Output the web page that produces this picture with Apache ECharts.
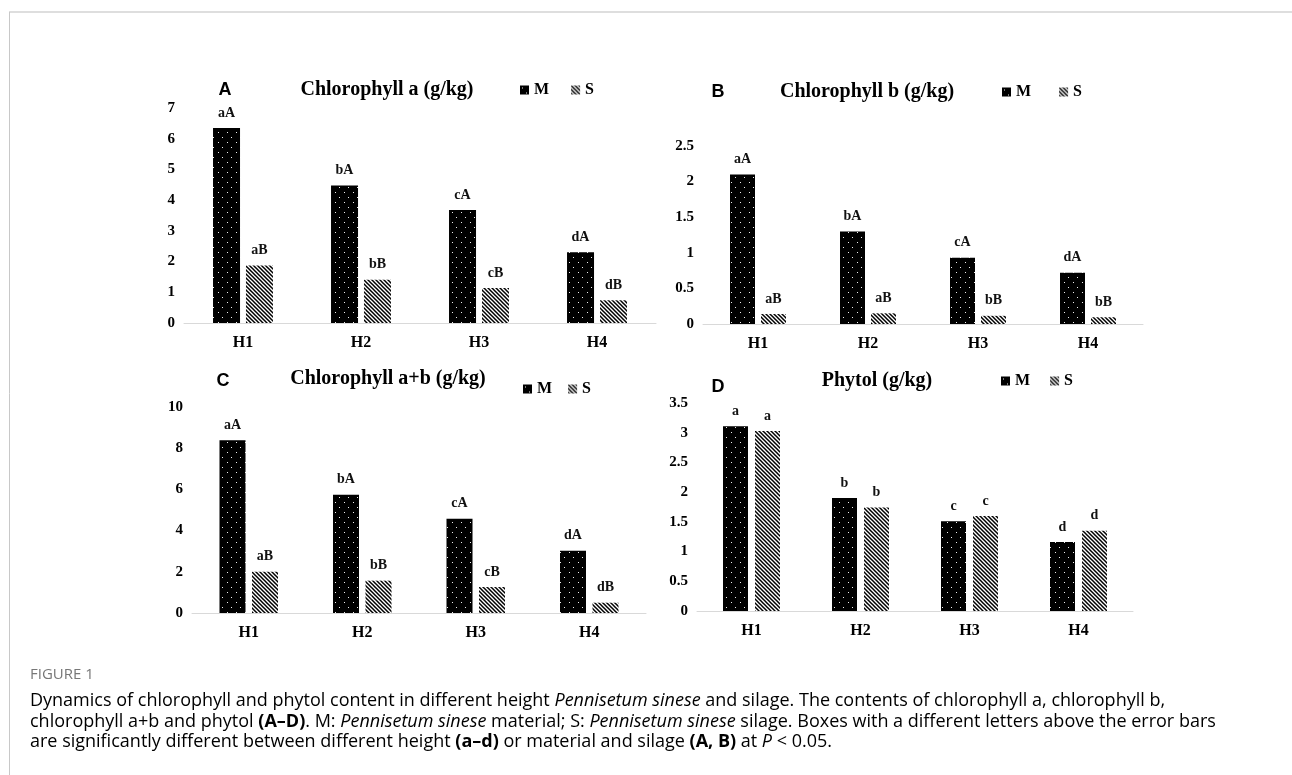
<!DOCTYPE html>
<html><head><meta charset="utf-8">
<script src="https://cdn.jsdelivr.net/npm/echarts@6/dist/echarts.min.js"></script>
<style>html,body{margin:0;padding:0;background:#fff}#c{width:1292px;height:775px}</style>
</head><body><div id="c"></div>
<script>
// ---- data ----
const categories = ['H1', 'H2', 'H3', 'H4'];
const seriesNames = ['M', 'S'];

const chlA_M = [6.35, 4.48, 3.68, 2.30];
const chlA_S = [1.87, 1.41, 1.14, 0.74];
const chlB_M = [2.10, 1.30, 0.93, 0.72];
const chlB_S = [0.14, 0.15, 0.115, 0.095];
const chlAB_M = [8.38, 5.74, 4.58, 3.02];
const chlAB_S = [2.00, 1.57, 1.26, 0.50];
const phytol_M = [3.11, 1.90, 1.51, 1.16];
const phytol_S = [3.03, 1.74, 1.60, 1.35];

const lettersA_M = ['aA', 'bA', 'cA', 'dA'];
const lettersA_S = ['aB', 'bB', 'cB', 'dB'];
const lettersB_M = ['aA', 'bA', 'cA', 'dA'];
const lettersB_S = ['aB', 'aB', 'bB', 'bB'];
const lettersC_M = ['aA', 'bA', 'cA', 'dA'];
const lettersC_S = ['aB', 'bB', 'cB', 'dB'];
const lettersD_M = ['a', 'b', 'c', 'd'];
const lettersD_S = ['a', 'b', 'c', 'd'];

const ticksA = [0, 1, 2, 3, 4, 5, 6, 7];
const ticksB = [0, 0.5, 1, 1.5, 2, 2.5];
const ticksC = [0, 2, 4, 6, 8, 10];
const ticksD = [0, 0.5, 1, 1.5, 2, 2.5, 3, 3.5];

const titles = ['Chlorophyll a (g/kg)', 'Chlorophyll b (g/kg)', 'Chlorophyll a+b (g/kg)', 'Phytol (g/kg)'];
const panelLetters = ['A', 'B', 'C', 'D'];

// ---- patterns ----
function dotPattern() {
  const c = document.createElement('canvas'); c.width = 9; c.height = 10;
  const g = c.getContext('2d');
  g.fillStyle = '#000'; g.fillRect(0, 0, 9, 10);
  g.fillStyle = '#f0f0f0'; g.fillRect(2, 2, 1, 1); g.fillRect(6, 7, 1, 1);
  return c;
}
function stripePattern() {
  const n = 4; const c = document.createElement('canvas'); c.width = n; c.height = n;
  const g = c.getContext('2d');
  g.fillStyle = '#fff'; g.fillRect(0, 0, n, n);
  g.strokeStyle = '#000'; g.lineWidth = 1.5; g.beginPath();
  g.moveTo(-1, -1); g.lineTo(n + 1, n + 1);
  g.moveTo(-1, n - 1); g.lineTo(1, n + 1);
  g.moveTo(n - 1, -1); g.lineTo(n + 1, 1);
  g.stroke();
  return c;
}
const fillM = { image: dotPattern(), repeat: 'repeat' };
const fillS = { image: stripePattern(), repeat: 'repeat' };

const SERIF = '"Liberation Serif", "Times New Roman", serif';
const SANS = '"Liberation Sans", Arial, sans-serif';

const panels = [
  { grid: { left: 184, top: 108, width: 472, height: 215 }, m: chlA_M, s: chlA_S, lm: lettersA_M, ls: lettersA_S, ticks: ticksA, bw: 27, gap: '22%',
    title: [387, 90], letter: [225, 90], legend: { left: 520, top: 82, gap: 22 } },
  { grid: { left: 703, top: 146, width: 440, height: 178 }, m: chlB_M, s: chlB_S, lm: lettersB_M, ls: lettersB_S, ticks: ticksB, bw: 25, gap: '24%',
    title: [867, 92], letter: [718, 92], legend: { left: 1002, top: 84, gap: 28 } },
  { grid: { left: 192, top: 407, width: 454, height: 206 }, m: chlAB_M, s: chlAB_S, lm: lettersC_M, ls: lettersC_S, ticks: ticksC, bw: 26, gap: '25%',
    title: [388, 379], letter: [223, 381], legend: { left: 523, top: 381, gap: 16 } },
  { grid: { left: 697, top: 403, width: 436, height: 208 }, m: phytol_M, s: phytol_S, lm: lettersD_M, ls: lettersD_S, ticks: ticksD, bw: 25, gap: '28%',
    title: [877, 381], letter: [718, 387], legend: { left: 1001, top: 373, gap: 20 } }
];

const grids = [], xAxes = [], yAxes = [], series = [], legends = [], graphics = [];

panels.forEach((p, i) => {
  grids.push(Object.assign({ containLabel: false }, p.grid));
  xAxes.push({
    type: 'category', gridIndex: i, data: categories,
    axisLine: { lineStyle: { color: '#d9d9d9', width: 1 } },
    axisTick: { show: false },
    axisLabel: { color: '#000', fontFamily: SERIF, fontWeight: 'bold', fontSize: 16, margin: 12 }
  });
  const t = p.ticks;
  yAxes.push({
    type: 'value', gridIndex: i, min: t[0], max: t[t.length - 1], interval: t[1] - t[0],
    axisLine: { show: false }, axisTick: { show: false }, splitLine: { show: false },
    axisLabel: { color: '#000', fontFamily: SERIF, fontWeight: 'bold', fontSize: 15, margin: 9 }
  });
  const lbl = (arr) => ({
    show: true, position: 'top', distance: 8, color: '#111',
    fontFamily: SERIF, fontWeight: 'bold', fontSize: 14,
    formatter: (q) => arr[q.dataIndex]
  });
  series.push({
    name: seriesNames[0], type: 'bar', xAxisIndex: i, yAxisIndex: i, data: p.m,
    barWidth: p.bw, barGap: p.gap, itemStyle: { color: fillM }, label: lbl(p.lm),
    emphasis: { disabled: true }, animation: false
  });
  series.push({
    name: seriesNames[1], type: 'bar', xAxisIndex: i, yAxisIndex: i, data: p.s,
    barWidth: p.bw, barGap: p.gap, itemStyle: { color: fillS }, label: lbl(p.ls),
    emphasis: { disabled: true }, animation: false
  });
  legends.push({
    data: seriesNames, left: p.legend.left, top: p.legend.top, padding: 0,
    itemWidth: 9, itemHeight: 9, itemGap: p.legend.gap, icon: 'rect', selectedMode: false,
    textStyle: { color: '#000', fontFamily: SERIF, fontWeight: 'bold', fontSize: 16 }
  });
  graphics.push({
    type: 'text', x: p.title[0], y: p.title[1],
    style: { text: titles[i], font: 'bold 20px ' + SERIF, fill: '#000', textAlign: 'center', textVerticalAlign: 'middle' }
  });
  graphics.push({
    type: 'text', x: p.letter[0], y: p.letter[1],
    style: { text: panelLetters[i], font: 'bold 18px ' + SANS, fill: '#000', textAlign: 'center', textVerticalAlign: 'middle' }
  });
});

// frame
graphics.push({ type: 'line', shape: { x1: 9, y1: 12, x2: 1292, y2: 12 }, style: { stroke: '#dedede', lineWidth: 2 } });
graphics.push({ type: 'line', shape: { x1: 9.5, y1: 12, x2: 9.5, y2: 775 }, style: { stroke: '#c8c8c8', lineWidth: 1 } });

// caption
const CAP = '"Open Sans", "Noto Sans", sans-serif';
const capColor = '#5f5f5f';
const capSize = 18;
const capRich = {
  n: { fontFamily: CAP, fontSize: capSize, color: capColor },
  i: { fontFamily: CAP, fontSize: capSize, color: capColor, fontStyle: 'italic' },
  b: { fontFamily: CAP, fontSize: capSize, color: '#4a4a4a', fontWeight: 'bold' }
};
const captionLines = [
  '{n|Dynamics of chlorophyll and phytol content in different height }{i|Pennisetum sinese}{n| and silage. The contents of chlorophyll a, chlorophyll b,}',
  '{n|chlorophyll a+b and phytol }{b|(A–D)}{n|. M: }{i|Pennisetum sinese}{n| material; S: }{i|Pennisetum sinese}{n| silage. Boxes with a different letters above the error bars}',
  '{n|are significantly different between different height }{b|(a–d)}{n| or material and silage }{b|(A, B)}{n| at }{i|P}{n| < 0.05.}'
];
graphics.push({ type: 'text', x: 30, y: 675, style: { text: 'FIGURE 1', font: '15px ' + CAP, fill: '#777', textVerticalAlign: 'middle' } });
captionLines.forEach((ln, k) => {
  graphics.push({ type: 'text', x: 30, y: 701 + k * 20.5, style: { text: ln, rich: capRich, textVerticalAlign: 'middle' } });
});

const chart = echarts.init(document.getElementById('c'), null, { renderer: 'canvas' });
chart.setOption({
  backgroundColor: '#fff',
  animation: false,
  grid: grids, xAxis: xAxes, yAxis: yAxes, series: series, legend: legends,
  graphic: graphics
});
</script></body></html>
